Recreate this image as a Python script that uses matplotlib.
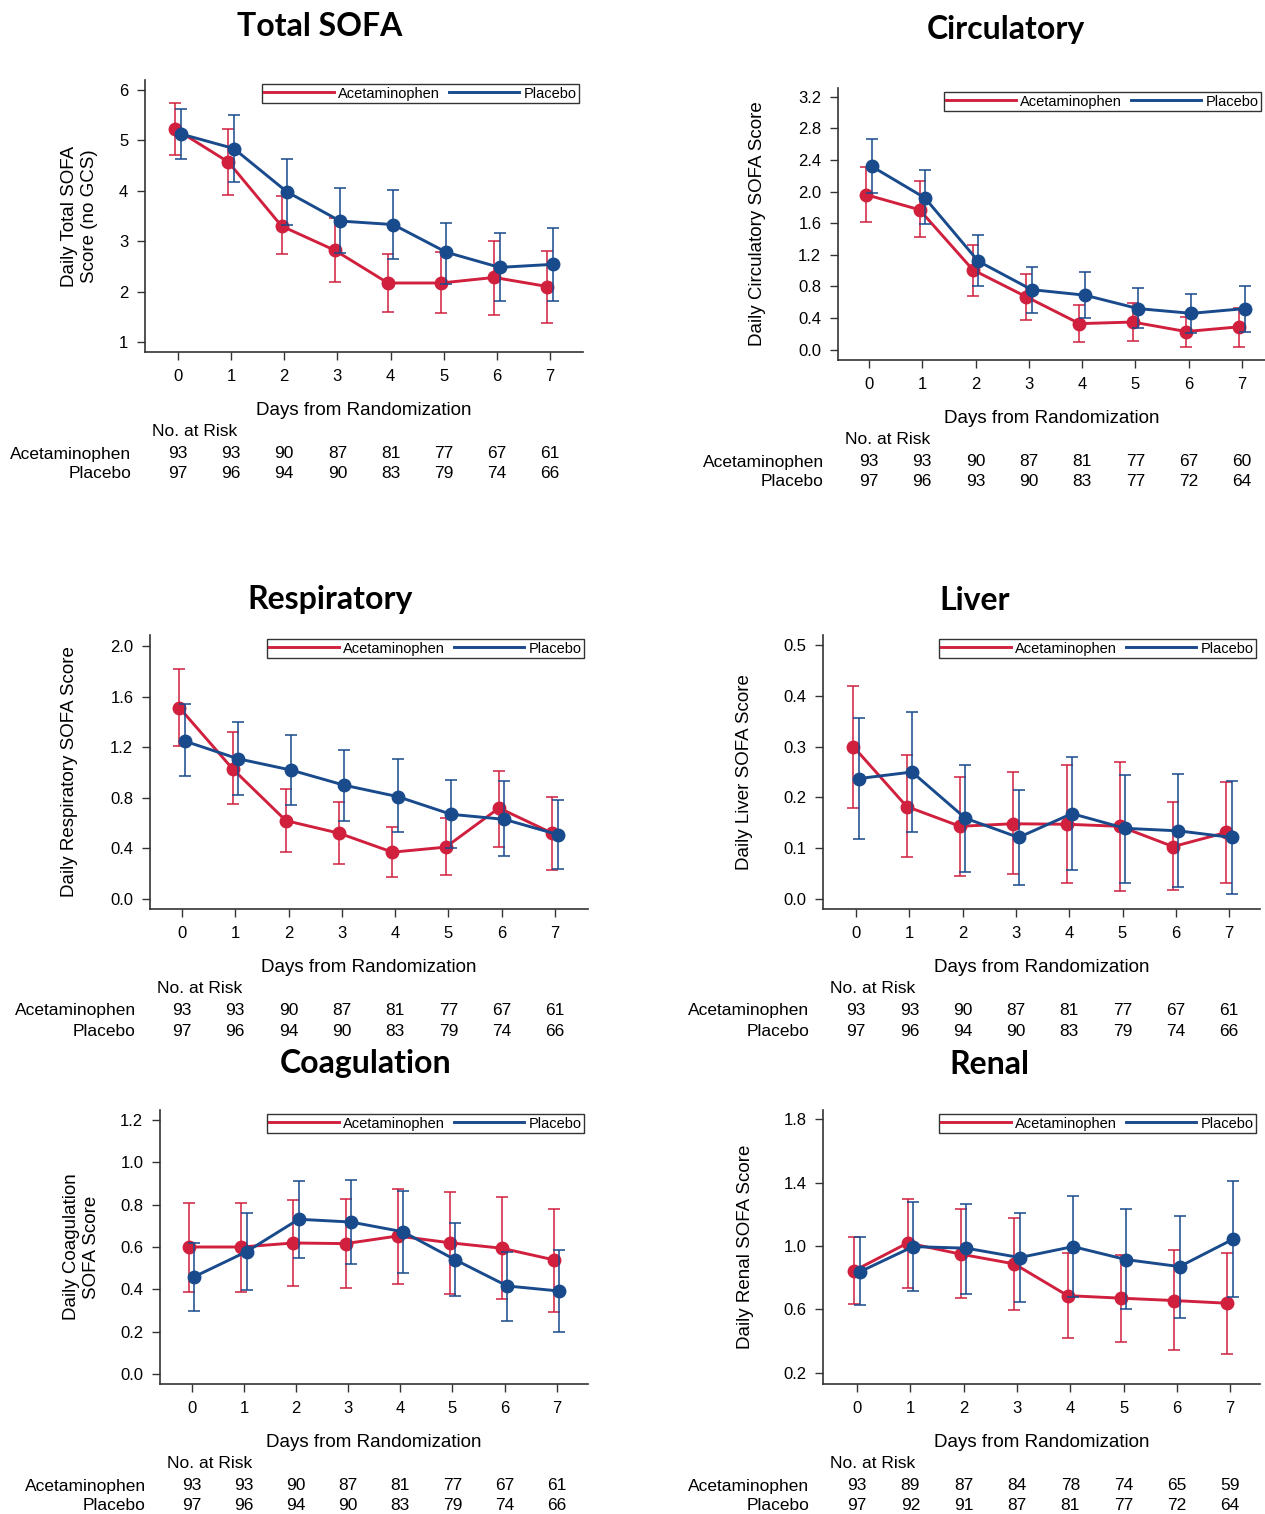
import matplotlib
matplotlib.use('Agg')
import matplotlib.pyplot as plt
import numpy as np

plt.rcParams['font.family'] = ['Liberation Sans', 'DejaVu Sans']

days = [0, 1, 2, 3, 4, 5, 6, 7]
RED = '#D0203E'
BLUE = '#184A8C'

# Total SOFA
total_apap = [5.23, 4.57, 3.30, 2.82, 2.17, 2.17, 2.28, 2.10]
total_apap_lo = [4.72, 3.92, 2.74, 2.19, 1.60, 1.58, 1.54, 1.38]
total_apap_hi = [5.75, 5.22, 3.90, 3.46, 2.74, 2.78, 3.01, 2.81]
total_plac = [5.13, 4.84, 3.98, 3.40, 3.33, 2.78, 2.48, 2.54]
total_plac_lo = [4.64, 4.17, 3.33, 2.76, 2.64, 2.15, 1.81, 1.82]
total_plac_hi = [5.63, 5.51, 4.64, 4.06, 4.02, 3.36, 3.17, 3.27]

# Circulatory
circ_apap = [1.96, 1.77, 1.01, 0.67, 0.33, 0.35, 0.23, 0.29]
circ_apap_lo = [1.62, 1.42, 0.68, 0.38, 0.10, 0.11, 0.03, 0.04]
circ_apap_hi = [2.31, 2.13, 1.33, 0.96, 0.57, 0.59, 0.42, 0.53]
circ_plac = [2.32, 1.92, 1.12, 0.76, 0.69, 0.52, 0.46, 0.52]
circ_plac_lo = [1.98, 1.59, 0.80, 0.47, 0.40, 0.27, 0.21, 0.22]
circ_plac_hi = [2.67, 2.27, 1.45, 1.05, 0.98, 0.78, 0.71, 0.81]

# Respiratory
resp_apap = [1.515, 1.03, 0.62, 0.52, 0.37, 0.41, 0.72, 0.52]
resp_apap_lo = [1.21, 0.75, 0.37, 0.28, 0.17, 0.19, 0.41, 0.23]
resp_apap_hi = [1.82, 1.32, 0.87, 0.77, 0.57, 0.64, 1.01, 0.81]
resp_plac = [1.25, 1.11, 1.02, 0.90, 0.81, 0.67, 0.63, 0.51]
resp_plac_lo = [0.97, 0.82, 0.74, 0.62, 0.53, 0.40, 0.34, 0.24]
resp_plac_hi = [1.54, 1.40, 1.30, 1.18, 1.11, 0.94, 0.93, 0.78]

# Liver
liver_apap = [0.300, 0.182, 0.143, 0.148, 0.147, 0.143, 0.103, 0.131]
liver_apap_lo = [0.180, 0.082, 0.046, 0.049, 0.031, 0.016, 0.017, 0.032]
liver_apap_hi = [0.420, 0.283, 0.241, 0.250, 0.264, 0.269, 0.190, 0.230]
liver_plac = [0.237, 0.250, 0.159, 0.121, 0.168, 0.139, 0.134, 0.121]
liver_plac_lo = [0.118, 0.132, 0.053, 0.028, 0.056, 0.032, 0.024, 0.010]
liver_plac_hi = [0.356, 0.368, 0.264, 0.215, 0.280, 0.244, 0.246, 0.232]

# Coagulation
coag_apap = [0.60, 0.60, 0.619, 0.616, 0.652, 0.62, 0.594, 0.539]
coag_apap_lo = [0.389, 0.389, 0.417, 0.408, 0.427, 0.38, 0.354, 0.293]
coag_apap_hi = [0.806, 0.806, 0.822, 0.825, 0.876, 0.86, 0.835, 0.780]
coag_plac = [0.46, 0.578, 0.731, 0.718, 0.672, 0.54, 0.416, 0.392]
coag_plac_lo = [0.30, 0.397, 0.548, 0.520, 0.479, 0.37, 0.249, 0.200]
coag_plac_hi = [0.62, 0.762, 0.913, 0.917, 0.865, 0.712, 0.578, 0.584]

# Renal
renal_apap = [0.845, 1.019, 0.948, 0.887, 0.687, 0.671, 0.656, 0.639]
renal_apap_lo = [0.635, 0.738, 0.673, 0.597, 0.418, 0.397, 0.345, 0.322]
renal_apap_hi = [1.055, 1.297, 1.230, 1.179, 0.956, 0.946, 0.975, 0.956]
renal_plac = [0.837, 0.996, 0.986, 0.927, 0.996, 0.914, 0.870, 1.042]
renal_plac_lo = [0.626, 0.719, 0.700, 0.645, 0.681, 0.603, 0.549, 0.679]
renal_plac_hi = [1.055, 1.274, 1.267, 1.208, 1.313, 1.234, 1.192, 1.408]

# numbers at risk
risk_apap = [93, 93, 90, 87, 81, 77, 67, 61]
risk_plac = [97, 96, 94, 90, 83, 79, 74, 66]
risk_apap_circ = [93, 93, 90, 87, 81, 77, 67, 60]
risk_plac_circ = [97, 96, 93, 90, 83, 77, 72, 64]
risk_apap_renal = [93, 89, 87, 84, 78, 74, 65, 59]
risk_plac_renal = [97, 92, 91, 87, 81, 77, 72, 64]

W, H = 1265, 1514
fig = plt.figure(figsize=(W / 100, H / 100), dpi=100)

panels = [
    dict(title='Total SOFA', tpos=(320, 27), box=(145, 80, 583, 352), xlim=(-0.62, 7.62),
         ylim=(0.8, 6.2), yticks=[1, 2, 3, 4, 5, 6], fmt='{:.0f}',
         ylabel='Daily Total SOFA\nScore (no GCS)', ylab_x=98,
         a=(total_apap, total_apap_lo, total_apap_hi), p=(total_plac, total_plac_lo, total_plac_hi),
         ra=risk_apap, rp=risk_plac),
    dict(title='Circulatory', tpos=(1006, 29), box=(838, 88, 1265, 360), xlim=(-0.58, 7.43),
         ylim=(-0.13, 3.31), yticks=np.arange(0, 3.3, 0.4), fmt='{:.1f}',
         ylabel='Daily Circulatory SOFA Score', ylab_x=766,
         a=(circ_apap, circ_apap_lo, circ_apap_hi), p=(circ_plac, circ_plac_lo, circ_plac_hi),
         ra=risk_apap_circ, rp=risk_plac_circ),
    dict(title='Respiratory', tpos=(330, 600), box=(150, 635, 588, 909), xlim=(-0.6, 7.62),
         ylim=(-0.08, 2.09), yticks=np.arange(0, 2.1, 0.4), fmt='{:.1f}',
         ylabel='Daily Respiratory SOFA Score', ylab_x=78,
         a=(resp_apap, resp_apap_lo, resp_apap_hi), p=(resp_plac, resp_plac_lo, resp_plac_hi),
         ra=risk_apap, rp=risk_plac),
    dict(title='Liver', tpos=(975, 600), box=(823, 635, 1260, 909), xlim=(-0.62, 7.58),
         ylim=(-0.02, 0.52), yticks=np.arange(0, 0.51, 0.1), fmt='{:.1f}',
         ylabel='Daily Liver SOFA Score', ylab_x=753,
         a=(liver_apap, liver_apap_lo, liver_apap_hi), p=(liver_plac, liver_plac_lo, liver_plac_hi),
         ra=risk_apap, rp=risk_plac),
    dict(title='Coagulation', tpos=(366, 1064), box=(160, 1110, 588, 1384), xlim=(-0.61, 7.6),
         ylim=(-0.047, 1.247), yticks=np.arange(0, 1.21, 0.2), fmt='{:.1f}',
         ylabel='Daily Coagulation\nSOFA Score', ylab_x=100,
         a=(coag_apap, coag_apap_lo, coag_apap_hi), p=(coag_plac, coag_plac_lo, coag_plac_hi),
         ra=risk_apap, rp=risk_plac),
    dict(title='Renal', tpos=(989, 1065), box=(823, 1110, 1260, 1384), xlim=(-0.64, 7.56),
         ylim=(0.13, 1.857), yticks=np.arange(0.2, 1.81, 0.4), fmt='{:.1f}',
         ylabel='Daily Renal SOFA Score', ylab_x=754,
         a=(renal_apap, renal_apap_lo, renal_apap_hi), p=(renal_plac, renal_plac_lo, renal_plac_hi),
         ra=risk_apap_renal, rp=risk_plac_renal),
]

for pn in panels:
    l, t, r, b = pn['box']
    ax = fig.add_axes([l / W, 1 - b / H, (r - l) / W, (b - t) / H])
    x = np.array(days, dtype=float)
    for (mean, lo, hi), col, lab, dx in [(pn['a'], RED, 'Acetaminophen', -0.05),
                                          (pn['p'], BLUE, 'Placebo', 0.05)]:
        mean = np.array(mean)
        err = [mean - np.array(lo), np.array(hi) - mean]
        ax.errorbar(x + dx, mean, yerr=err, fmt='none', ecolor=col, elinewidth=1.3,
                    capsize=4.5, capthick=1.3, alpha=0.85)
        ax.plot(x + dx, mean, '-o', color=col, lw=2.1, ms=9, label=lab)
    ax.set_xlim(*pn['xlim'])
    ax.set_ylim(*pn['ylim'])
    ax.set_xticks(days)
    ax.set_yticks(pn['yticks'])
    ax.set_yticklabels([pn['fmt'].format(v) for v in pn['yticks']])
    ax.tick_params(labelsize=12, length=6, width=1, color='#333333', pad=6)
    for s in ['top', 'right']:
        ax.spines[s].set_visible(False)
    for s in ['left', 'bottom']:
        ax.spines[s].set_color('#333333')
        ax.spines[s].set_linewidth(1.2)
    ax.set_xlabel('Days from Randomization', fontsize=13.5, labelpad=13)
    ax.set_ylabel(pn['ylabel'], fontsize=13.5)
    ax.yaxis.set_label_coords(-(l - pn['ylab_x']) / (r - l), 0.5)
    leg = ax.legend(loc='upper right', ncol=2, fontsize=10.5, frameon=True, fancybox=False,
                    handlelength=4.8, handletextpad=0.3, columnspacing=0.6,
                    borderpad=0.15, borderaxespad=0.3)
    for h in leg.legend_handles:
        h.set_marker('')
    leg.get_frame().set_edgecolor('black')
    leg.get_frame().set_linewidth(1.0)
    # risk table
    ax.annotate('No. at Risk', xy=(0, 0), xycoords='axes fraction', xytext=(7, -80),
                textcoords='offset pixels', ha='left', va='center', fontsize=12.5,
                annotation_clip=False)
    ax.annotate('Acetaminophen', xy=(0, 0), xycoords='axes fraction', xytext=(-14, -102),
                textcoords='offset pixels', ha='right', va='center', fontsize=12.5,
                annotation_clip=False)
    ax.annotate('Placebo', xy=(0, 0), xycoords='axes fraction', xytext=(-14, -122),
                textcoords='offset pixels', ha='right', va='center', fontsize=12.5,
                annotation_clip=False)
    for d, na, npl in zip(days, pn['ra'], pn['rp']):
        ax.annotate(str(na), xy=(d, 0), xycoords=('data', 'axes fraction'), xytext=(0, -102),
                    textcoords='offset pixels', ha='center', va='center', fontsize=12.5,
                    annotation_clip=False)
        ax.annotate(str(npl), xy=(d, 0), xycoords=('data', 'axes fraction'), xytext=(0, -122),
                    textcoords='offset pixels', ha='center', va='center', fontsize=12.5,
                    annotation_clip=False)
    tx, ty = pn['tpos']
    fig.text(tx / W, 1 - ty / H, pn['title'], ha='center', va='center', fontsize=23,
             fontweight='bold', family=['Lato', 'DejaVu Sans'])

fig.savefig('out.png', dpi=100)
